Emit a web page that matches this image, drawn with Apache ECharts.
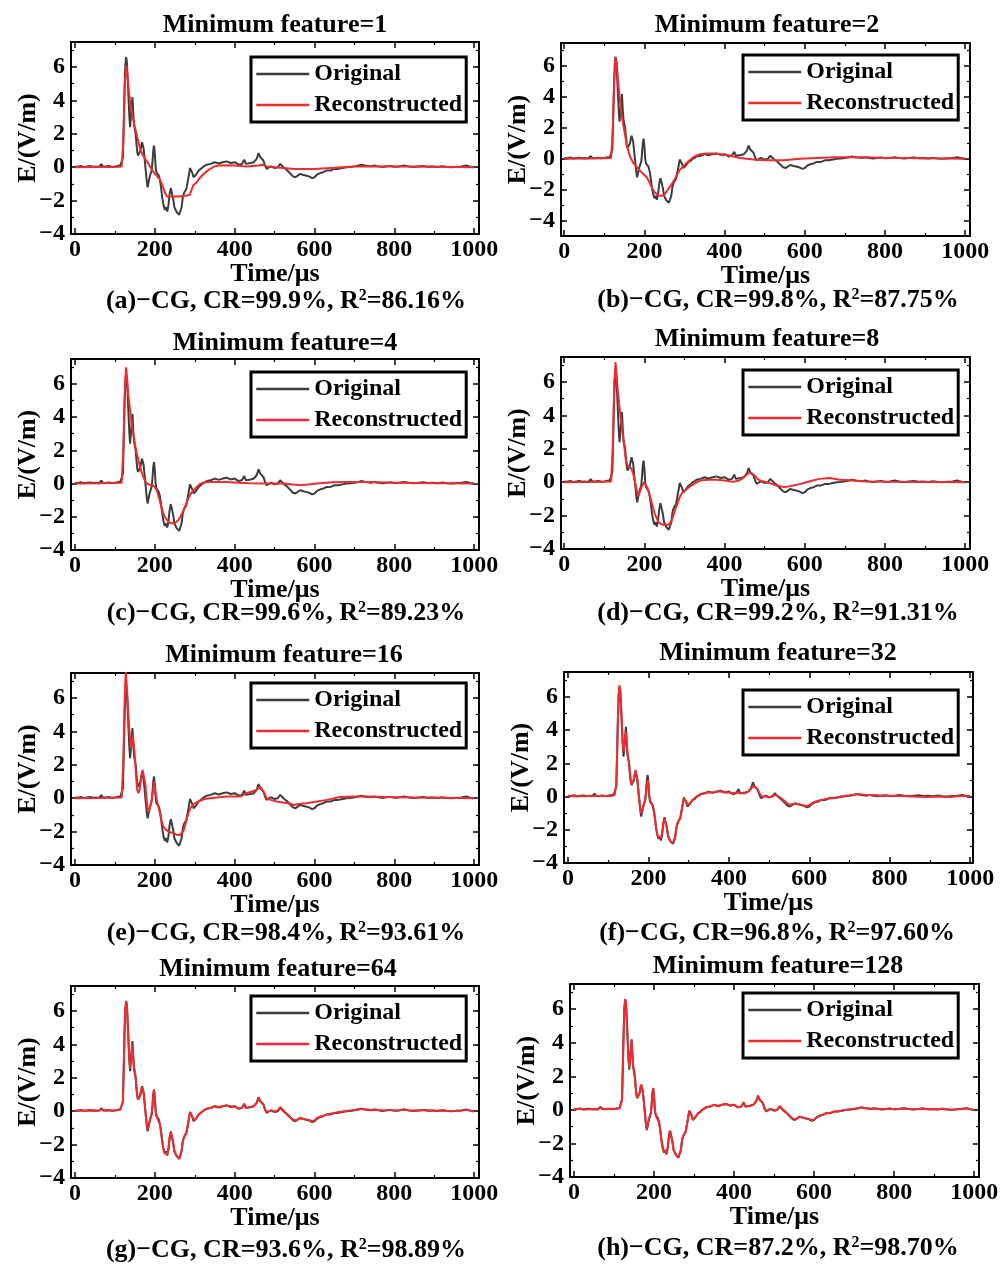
<!DOCTYPE html>
<html><head><meta charset="utf-8">
<script src="https://cdn.jsdelivr.net/npm/echarts@6/dist/echarts.min.js"></script>
<style>html,body{margin:0;padding:0;background:#fff}#c{width:1008px;height:1264px}</style>
</head><body><div id="c"></div>
<script>
// ---------- DATA ----------
const panelTitles = ['Minimum feature=1','Minimum feature=2','Minimum feature=4','Minimum feature=8',
  'Minimum feature=16','Minimum feature=32','Minimum feature=64','Minimum feature=128'];
const captionLetters = ['a','b','c','d','e','f','g','h'];
const captionCR = ['99.9%','99.8%','99.6%','99.2%','98.4%','96.8%','93.6%','87.2%'];
const captionR2 = ['86.16%','87.75%','89.23%','91.31%','93.61%','97.60%','98.89%','98.70%'];
const xTickLabels = [0,200,400,600,800,1000];
const xMinorTicks = [100,300,500,700,900];
const yTickLabels = [-4,-2,0,2,4,6];
const yMinorTicks = [-3,-1,1,3,5,7];
const xMins = [-10,-8,-10,-8,-10,-10,-10,-10];
const xMaxs = [1012,1012,1012,1012,1012,1007,1012,1012];
const yMins = [-4,-5,-4,-4,-4,-4,-4,-4];
const yMaxs = [7.5,7.5,7.5,7.5,7.5,7.5,7.5,7.5];

// Original waveform [time(us), E(V/m)]
const original = [[0,0.05],[8,0.03],[15,0.08],[22,0.02],[30,0.05],[38,0.07],[45,0.03],[52,0.05],[60,0.02],[66,0.18],[70,0.05],[78,0.04],[85,0.07],[92,0.03],[100,0.05],[106,0.08],[110,0.04],[114,0.12],[117,0.2],
[120,0.6],[122,2.5],[124,4.6],[126,6.1],[128,6.6],[130,6.3],[132,5.3],[134,4.2],[136,3.1],[138,2.4],[140,2.5],[142,3.6],[144,4.2],[146,3.2],[148,2.5],[150,2.4],[152,2.0],[154,1.4],[156,0.9],[158,0.7],[160,0.75],[162,0.8],[164,1.0],[166,1.3],[168,1.5],[170,1.45],[172,1.1],[174,0.6],[176,0.1],[178,-0.4],[180,-0.9],[182,-1.2],[184,-1.1],[186,-0.7],[188,-0.5],[190,-0.45],[192,-0.2],[194,0.3],[196,1.0],[198,1.3],[200,0.8],[202,0.0],[204,-0.3],[206,-0.4],[208,-0.4],[210,-0.5],
[213,-0.8],[216,-1.3],[219,-1.9],[222,-2.3],[225,-2.55],[228,-2.4],[231,-2.65],[234,-2.3],[237,-1.6],[240,-1.25],[243,-1.3],[246,-1.9],[249,-2.4],[252,-2.55],[255,-2.7],[258,-2.8],[261,-2.85],[264,-2.75],[267,-2.4],[270,-1.8],[273,-1.55],[276,-1.5],[279,-1.3],[282,-0.9],[285,-0.5],[288,-0.05],[291,0.05],[294,-0.35],[297,-0.6],[300,-0.65],[303,-0.45],[306,-0.4],[310,-0.2],[315,-0.15],[320,0.0],[325,0.05],[330,0.15],[340,0.2],[350,0.3],[360,0.22],[370,0.3],[380,0.35],[390,0.25],[400,0.3],[410,0.15],[418,0.2],[424,0.45],[428,0.2],[432,0.1],[440,0.25],[448,0.3],[455,0.5],[460,0.85],[464,0.6],[468,0.65],[472,0.4],[476,0.1],[480,-0.1],[486,0.0],[492,0.05],[500,-0.05],[508,0.0],[514,0.2],[518,0.15],[524,-0.05],[530,-0.15],[538,-0.35],[546,-0.55],[552,-0.6],[558,-0.5],[564,-0.4],[570,-0.45],[578,-0.5],[586,-0.55],[594,-0.65],[600,-0.6],[606,-0.45],[614,-0.35],[622,-0.3],[630,-0.2],[640,-0.2],[650,-0.1],[660,-0.1],[670,-0.05],[680,0.0],[690,0.02],[700,0.05],[710,0.1],[718,0.15],[726,0.1],[734,0.08],[742,0.05],[750,0.1],[760,0.05],[770,0.02],[780,0.05],[790,0.08],[800,0.03],[812,0.05],[824,0.1],[836,0.05],[848,0.02],[860,0.05],[872,0.08],[884,0.03],[896,0.05],[908,0.02],[920,0.06],[932,0.02],[944,0.0],[956,0.03],[968,0.05],[980,0.1],[988,0.05],[996,0.0],[1000,0.02]];

const reconA = [[0,0.0],[50,0.02],[100,0.02],[117,0.05],[121,1.5],[125,5.0],[128,6.1],[131,5.6],[135,4.5],[140,3.6],[145,3.0],[150,2.4],[155,1.9],[160,1.4],[165,1.0],[170,0.7],[180,0.35],[190,-0.05],[200,-0.4],[210,-0.65],[215,-0.85],[220,-1.15],[225,-1.5],[230,-1.75],[240,-1.75],[250,-1.75],[260,-1.75],[270,-1.72],[280,-1.7],[288,-1.65],[292,-1.35],[296,-1.1],[300,-1.0],[305,-0.9],[310,-0.72],[320,-0.45],[330,-0.25],[340,-0.08],[350,0.05],[360,0.1],[380,0.12],[400,0.1],[430,0.05],[460,0.1],[470,0.15],[475,0.2],[480,0.05],[500,0.0],[550,-0.1],[600,-0.1],[650,-0.03],[700,0.05],[750,0.05],[800,0.05],[900,0.03],[1000,0.0]];

const reconB = [[0,0.0],[60,0.02],[117,0.05],[121,1.8],[125,5.2],[128,6.6],[131,6.2],[135,4.8],[139,3.8],[144,2.7],[148,2.1],[152,1.5],[156,0.9],[160,0.5],[165,0.1],[173,-0.3],[182,-0.55],[190,-0.8],[198,-1.0],[206,-1.2],[212,-1.5],[219,-1.9],[225,-2.15],[231,-2.3],[237,-2.4],[243,-2.4],[250,-2.3],[256,-2.1],[265,-1.75],[273,-1.45],[281,-1.05],[289,-0.7],[298,-0.45],[306,-0.25],[315,-0.05],[323,0.12],[331,0.22],[339,0.3],[355,0.35],[372,0.35],[390,0.3],[406,0.25],[422,0.15],[439,0.05],[455,0.0],[472,-0.05],[490,-0.08],[506,-0.1],[527,-0.1],[547,-0.1],[568,-0.05],[589,0.0],[630,0.05],[672,0.1],[714,0.1],[755,0.1],[800,0.05],[850,0.05],[900,0.03],[950,0.02],[1000,0.0]];

const reconC = [[0,0.0],[60,0.02],[117,0.05],[121,2.0],[125,5.8],[128,7.0],[131,6.2],[134,5.2],[138,4.4],[142,3.6],[146,3.0],[150,2.4],[155,1.8],[159,1.4],[163,1.0],[168,0.6],[175,0.2],[180,0.0],[184,-0.1],[190,-0.1],[196,-0.1],[200,-0.15],[205,-0.4],[209,-0.75],[213,-1.1],[217,-1.45],[221,-1.8],[226,-2.05],[234,-2.3],[240,-2.38],[246,-2.4],[252,-2.35],[259,-2.2],[265,-1.95],[272,-1.6],[278,-1.25],[284,-0.9],[290,-0.6],[297,-0.4],[305,-0.2],[313,-0.02],[325,0.08],[338,0.1],[360,0.1],[380,0.1],[410,0.05],[438,0.02],[480,0.0],[522,0.0],[545,-0.05],[564,-0.08],[585,-0.05],[606,0.0],[630,0.05],[647,0.08],[690,0.1],[731,0.1],[780,0.06],[850,0.04],[920,0.02],[1000,0.0]];

const reconD = [[0,0.0],[60,0.02],[117,0.05],[121,2.0],[125,6.0],[128,7.2],[131,6.3],[134,5.4],[137,4.7],[141,3.8],[146,2.9],[150,2.1],[154,1.3],[158,1.0],[162,0.9],[168,0.8],[172,0.5],[176,0.1],[180,-0.4],[184,-0.85],[187,-0.7],[193,-0.3],[199,0.0],[203,-0.05],[207,-0.3],[211,-0.6],[218,-1.2],[226,-1.9],[234,-2.35],[241,-2.5],[247,-2.55],[253,-2.55],[259,-2.55],[264,-2.45],[268,-2.3],[272,-2.0],[276,-1.7],[282,-1.3],[288,-0.9],[294,-0.65],[301,-0.5],[309,-0.35],[317,-0.2],[327,-0.05],[338,0.1],[360,0.15],[380,0.15],[400,0.1],[421,0.02],[435,0.1],[446,0.25],[455,0.45],[463,0.6],[469,0.5],[475,0.4],[482,0.2],[488,0.1],[504,0.0],[518,-0.1],[529,-0.2],[546,-0.28],[560,-0.25],[571,-0.2],[590,-0.1],[604,0.0],[620,0.1],[637,0.2],[662,0.25],[687,0.15],[720,0.1],[754,0.05],[800,0.03],[870,0.02],[940,0.02],[1000,0.0]];

const reconE = [[0,0.0],[60,0.02],[117,0.05],[121,2.2],[124,5.5],[127,7.6],[129,7.6],[131,6.3],[134,4.8],[137,3.8],[140,3.0],[143,3.4],[145,3.8],[147,3.3],[150,2.5],[153,1.3],[156,0.5],[159,0.3],[162,0.5],[166,1.3],[169,1.7],[172,1.4],[176,0.9],[180,-0.2],[183,-0.85],[186,-0.7],[190,-0.35],[194,0.2],[198,1.0],[201,0.5],[205,-0.1],[209,-0.5],[213,-0.9],[217,-1.35],[221,-1.7],[226,-1.85],[232,-1.95],[240,-2.05],[248,-2.1],[256,-2.2],[263,-2.2],[268,-2.1],[272,-1.95],[276,-1.6],[280,-1.25],[284,-0.9],[290,-0.55],[297,-0.35],[305,-0.25],[313,-0.15],[325,-0.05],[338,0.0],[355,0.05],[380,0.1],[400,0.1],[414,0.1],[422,0.2],[430,0.3],[443,0.4],[455,0.5],[460,0.6],[464,0.7],[468,0.55],[472,0.4],[476,0.2],[480,0.0],[490,-0.1],[505,-0.2],[520,-0.25],[539,-0.32],[547,-0.4],[560,-0.35],[580,-0.3],[606,-0.2],[631,-0.1],[650,0.0],[664,0.08],[700,0.1],[731,0.1],[780,0.08],[850,0.05],[920,0.03],[1000,0.0]];

const reconF = [[0,0.02],[20,0.03],[40,0.02],[60,0.05],[80,0.03],[100,0.04],[110,0.05],[116,0.1],[120,0.7],[122,2.6],[124,4.7],[126,6.2],[128,6.7],[130,6.4],[132,5.4],[134,4.3],[136,3.3],[138,2.7],[140,2.8],[142,3.6],[144,3.9],[146,3.3],[148,2.6],[150,2.3],[152,1.9],[154,1.3],[156,0.9],[158,0.75],[160,0.8],[162,0.9],[164,1.1],[166,1.4],[168,1.6],[170,1.5],[172,1.1],[174,0.6],[176,0.1],[178,-0.4],[180,-0.8],[182,-1.0],[184,-0.95],[186,-0.7],[188,-0.5],[190,-0.4],[192,-0.2],[194,0.2],[196,0.8],[198,1.0],[200,0.7],[202,0.1],[204,-0.2],[206,-0.35],[208,-0.4],[210,-0.5],[213,-0.8],[216,-1.3],[219,-1.9],[222,-2.3],[225,-2.45],[228,-2.4],[231,-2.5],[234,-2.2],[237,-1.6],[240,-1.3],[243,-1.35],[246,-1.9],[249,-2.4],[252,-2.6],[255,-2.7],[258,-2.8],[261,-2.8],[264,-2.7],[267,-2.3],[270,-1.8],[273,-1.55],[276,-1.45],[279,-1.3],[282,-0.9],[285,-0.5],[288,-0.1],[291,0.0],[294,-0.3],[297,-0.5],[300,-0.55],[303,-0.4],[306,-0.35],[310,-0.2],[320,0.0],[330,0.15],[340,0.2],[350,0.25],[360,0.25],[370,0.3],[380,0.3],[390,0.25],[400,0.25],[410,0.2],[420,0.25],[428,0.2],[440,0.2],[448,0.3],[455,0.45],[460,0.65],[464,0.55],[470,0.5],[476,0.2],[482,0.0],[492,0.0],[500,-0.05],[510,0.05],[516,0.1],[524,0.0],[530,-0.1],[540,-0.3],[550,-0.5],[560,-0.45],[570,-0.45],[580,-0.5],[590,-0.55],[598,-0.55],[606,-0.4],[616,-0.3],[630,-0.2],[650,-0.1],[670,-0.05],[690,0.05],[710,0.1],[720,0.15],[740,0.1],[760,0.1],[780,0.05],[800,0.05],[830,0.03],[860,0.0],[890,-0.02],[920,0.0],[950,-0.03],[980,0.05],[1000,0.0]];

const reconG = [[0,0.02],[15,0.05],[30,0.03],[45,0.05],[60,0.03],[66,0.12],[75,0.04],[90,0.05],[105,0.06],[114,0.1],[117,0.18],[120,0.6],[122,2.5],[124,4.6],[126,6.1],[128,6.6],[130,6.4],[132,5.4],[134,4.3],[136,3.2],[138,2.6],[140,2.7],[142,3.6],[144,4.0],[146,3.2],[148,2.6],[150,2.4],[152,2.0],[154,1.4],[156,0.9],[158,0.7],[160,0.75],[162,0.85],[164,1.05],[166,1.3],[168,1.45],[170,1.4],[172,1.1],[174,0.6],[176,0.1],[178,-0.4],[180,-0.85],[182,-1.1],[184,-1.0],[186,-0.7],[188,-0.5],[190,-0.45],[192,-0.2],[194,0.3],[196,0.95],[198,1.25],[200,0.8],[202,0.05],[204,-0.25],[206,-0.4],[208,-0.4],[210,-0.5],[213,-0.8],[216,-1.3],[219,-1.9],[222,-2.3],[225,-2.5],[228,-2.4],[231,-2.6],[234,-2.3],[237,-1.6],[240,-1.2],[243,-1.3],[246,-1.9],[249,-2.4],[252,-2.55],[255,-2.7],[258,-2.8],[261,-2.85],[264,-2.7],[267,-2.35],[270,-1.8],[273,-1.55],[276,-1.5],[279,-1.3],[282,-0.9],[285,-0.5],[288,-0.05],[291,0.05],[294,-0.35],[297,-0.55],[300,-0.6],[303,-0.45],[306,-0.4],[310,-0.2],[315,-0.1],[320,0.0],[330,0.15],[340,0.2],[350,0.3],[360,0.25],[370,0.3],[380,0.35],[390,0.3],[400,0.28],[410,0.15],[418,0.2],[424,0.4],[428,0.2],[432,0.12],[440,0.25],[448,0.3],[455,0.5],[460,0.8],[464,0.6],[468,0.62],[472,0.4],[476,0.1],[480,-0.05],[486,0.0],[492,0.05],[500,-0.02],[508,0.05],[514,0.25],[518,0.15],[524,0.0],[530,-0.15],[538,-0.35],[546,-0.5],[552,-0.55],[558,-0.5],[564,-0.42],[570,-0.45],[578,-0.5],[586,-0.52],[594,-0.6],[600,-0.55],[606,-0.42],[614,-0.32],[622,-0.28],[630,-0.2],[640,-0.15],[650,-0.1],[660,-0.05],[670,-0.02],[680,0.02],[690,0.05],[700,0.08],[710,0.12],[718,0.15],[726,0.12],[734,0.1],[742,0.08],[750,0.1],[760,0.08],[770,0.05],[780,0.06],[790,0.08],[800,0.05],[812,0.06],[824,0.1],[836,0.06],[848,0.04],[860,0.05],[872,0.07],[884,0.04],[896,0.05],[908,0.03],[920,0.05],[932,0.03],[944,0.02],[956,0.03],[968,0.05],[980,0.08],[988,0.05],[996,0.0],[1000,0.0]];

const reconH = [[0,0.03],[15,0.06],[30,0.02],[45,0.05],[60,0.04],[66,0.15],[75,0.04],[90,0.06],[105,0.05],[114,0.1],[117,0.2],[120,0.6],[122,2.5],[124,4.6],[126,6.1],[128,6.6],[130,6.35],[132,5.35],[134,4.25],[136,3.1],[138,2.5],[140,2.6],[142,3.6],[144,4.1],[146,3.2],[148,2.55],[150,2.4],[152,2.0],[154,1.4],[156,0.9],[158,0.7],[160,0.75],[162,0.8],[164,1.0],[166,1.3],[168,1.5],[170,1.42],[172,1.1],[174,0.6],[176,0.1],[178,-0.4],[180,-0.88],[182,-1.15],[184,-1.05],[186,-0.7],[188,-0.5],[190,-0.45],[192,-0.2],[194,0.3],[196,1.0],[198,1.28],[200,0.8],[202,0.02],[204,-0.28],[206,-0.4],[208,-0.4],[210,-0.5],[213,-0.8],[216,-1.3],[219,-1.9],[222,-2.3],[225,-2.52],[228,-2.4],[231,-2.62],[234,-2.3],[237,-1.6],[240,-1.22],[243,-1.3],[246,-1.9],[249,-2.4],[252,-2.55],[255,-2.7],[258,-2.8],[261,-2.82],[264,-2.72],[267,-2.38],[270,-1.8],[273,-1.55],[276,-1.5],[279,-1.3],[282,-0.9],[285,-0.5],[288,-0.05],[291,0.05],[294,-0.35],[297,-0.58],[300,-0.62],[303,-0.45],[306,-0.4],[310,-0.2],[315,-0.12],[320,0.0],[330,0.15],[340,0.2],[350,0.3],[360,0.24],[370,0.3],[380,0.35],[390,0.27],[400,0.3],[410,0.15],[418,0.2],[424,0.42],[428,0.2],[432,0.1],[440,0.25],[448,0.3],[455,0.5],[460,0.82],[464,0.6],[468,0.64],[472,0.4],[476,0.1],[480,-0.08],[486,0.0],[492,0.05],[500,-0.04],[508,0.02],[514,0.22],[518,0.15],[524,-0.03],[530,-0.15],[538,-0.35],[546,-0.52],[552,-0.58],[558,-0.5],[564,-0.4],[570,-0.45],[578,-0.5],[586,-0.54],[594,-0.62],[600,-0.58],[606,-0.44],[614,-0.34],[622,-0.29],[630,-0.2],[640,-0.18],[650,-0.1],[660,-0.08],[670,-0.04],[680,0.0],[690,0.03],[700,0.06],[710,0.1],[718,0.15],[726,0.11],[734,0.09],[742,0.06],[750,0.1],[760,0.06],[770,0.03],[780,0.05],[790,0.08],[800,0.04],[812,0.05],[824,0.1],[836,0.05],[848,0.03],[860,0.05],[872,0.08],[884,0.04],[896,0.05],[908,0.03],[920,0.06],[932,0.03],[944,0.01],[956,0.03],[968,0.05],[980,0.1],[988,0.05],[996,0.0],[1000,0.0]];

const reconstructed = [reconA, reconB, reconC, reconD, reconE, reconF, reconG, reconH];

// ---------- LAYOUT ----------
const plotRects = [ // left, top, width, height
  [71,42,408,192],[561,43,409,193],
  [71,359,408,191],[561,357,409,192],
  [71,673,408,192],[564,672,409,191],
  [71,986,408,192],[570,984,409,193]
];
const titlePos = [[275,25],[767,25],[285,343],[767,339],[284,655],[778,653],[278,969],[778,966]];
const captionPos = [[286,301],[778,300],[286,613],[778,613],[286,933],[777,933],[286,1250],[778,1248]];
const legendPos = [[251,57],[743,55],[251,372],[743,370],[251,683],[743,690],[251,996],[743,993]];

const FONT = '"Liberation Serif","Times New Roman",serif';
const BLACK = '#000';
const ORIG_COLOR = '#3d3d3d';
const REC_COLOR = '#ef2b2f';

const grid = [], xAxis = [], yAxis = [], series = [], legend = [], graphic = [];
const lbl = {color: BLACK, fontFamily: FONT, fontWeight: 'bold', fontSize: 24};

plotRects.forEach((r, i) => {
  grid.push({left: r[0], top: r[1], width: r[2], height: r[3], containLabel: false, outerBoundsMode: 'none'});
  const xb = {type: 'value', gridIndex: i, min: xMins[i], max: xMaxs[i], splitLine: {show: false}, silent: true};
  const yb = {type: 'value', gridIndex: i, min: yMins[i], max: yMaxs[i], splitLine: {show: false}, silent: true};
  const line = {show: true, onZero: false, lineStyle: {color: BLACK, width: 2}};
  const noLine = {show: false, onZero: false};
  const tickMaj = {show: true, inside: true, length: 6, lineStyle: {color: BLACK, width: 1.5}};
  const tickMin = {show: true, inside: true, length: 3, lineStyle: {color: BLACK, width: 1.2}};
  xAxis.push(Object.assign({}, xb, {position: 'bottom', axisLine: line,
    axisTick: Object.assign({customValues: xTickLabels}, tickMaj),
    axisLabel: Object.assign({show: true, customValues: xTickLabels, margin: 4,
      formatter: v => String(v)}, lbl),
    name: 'Time/μs', nameLocation: 'middle', nameGap: 27, nameMoveOverlap: false,
    nameTextStyle: {color: BLACK, fontFamily: FONT, fontWeight: 'bold', fontSize: 26}}));
  xAxis.push(Object.assign({}, xb, {position: 'bottom', axisLine: noLine,
    axisTick: Object.assign({customValues: xMinorTicks}, tickMin), axisLabel: {show: false}}));
  xAxis.push(Object.assign({}, xb, {position: 'top', axisLine: line,
    axisTick: Object.assign({customValues: xTickLabels}, tickMaj), axisLabel: {show: false}}));
  xAxis.push(Object.assign({}, xb, {position: 'top', axisLine: noLine,
    axisTick: Object.assign({customValues: xMinorTicks}, tickMin), axisLabel: {show: false}}));

  yAxis.push(Object.assign({}, yb, {position: 'left', axisLine: line,
    axisTick: Object.assign({customValues: yTickLabels}, tickMaj),
    axisLabel: Object.assign({show: true, customValues: yTickLabels, margin: 6,
      formatter: v => (v < 0 ? '\u2212' + Math.abs(v) : String(v))}, lbl),
    name: 'E/(V/m)', nameLocation: 'middle', nameGap: 30, nameRotate: 90, nameMoveOverlap: false,
    nameTextStyle: {color: BLACK, fontFamily: FONT, fontWeight: 'bold', fontSize: 26}}));
  yAxis.push(Object.assign({}, yb, {position: 'left', axisLine: noLine,
    axisTick: Object.assign({customValues: yMinorTicks}, tickMin), axisLabel: {show: false}}));
  yAxis.push(Object.assign({}, yb, {position: 'right', axisLine: line,
    axisTick: Object.assign({customValues: yTickLabels}, tickMaj), axisLabel: {show: false}}));
  yAxis.push(Object.assign({}, yb, {position: 'right', axisLine: noLine,
    axisTick: Object.assign({customValues: yMinorTicks}, tickMin), axisLabel: {show: false}}));

  series.push({type: 'line', name: 'Original', xAxisIndex: i * 4, yAxisIndex: i * 4,
    data: original, symbol: 'none', showSymbol: false, smooth: false, clip: true,
    lineStyle: {color: ORIG_COLOR, width: 2}, itemStyle: {color: ORIG_COLOR}, z: 2});
  series.push({type: 'line', name: 'Reconstructed', xAxisIndex: i * 4, yAxisIndex: i * 4,
    data: reconstructed[i], symbol: 'none', showSymbol: false, smooth: false, clip: true,
    lineStyle: {color: REC_COLOR, width: 2}, itemStyle: {color: REC_COLOR}, z: 3});

  legend.push({left: legendPos[i][0], top: legendPos[i][1], orient: 'vertical',
    data: ['Original', 'Reconstructed'], selectedMode: false,
    borderColor: BLACK, borderWidth: 3, backgroundColor: '#fff',
    padding: [5, 4, 5, 4], itemWidth: 53, itemHeight: 24, itemGap: 7,
    itemStyle: {opacity: 0}, lineStyle: {width: 2.5},
    textStyle: {color: BLACK, fontFamily: FONT, fontWeight: 'bold', fontSize: 24}});

  graphic.push({type: 'text', x: titlePos[i][0], y: titlePos[i][1], silent: true,
    style: {text: panelTitles[i], fill: BLACK, font: 'bold 26px ' + FONT,
      align: 'center', verticalAlign: 'middle', textAlign: 'center', textVerticalAlign: 'middle'}});
  graphic.push({type: 'text', x: captionPos[i][0], y: captionPos[i][1], silent: true,
    style: {text: '(' + captionLetters[i] + ')\u2212CG, CR=' + captionCR[i] + ', R{sup|2}=' + captionR2[i],
      fill: BLACK, font: 'bold 26px ' + FONT, fontFamily: FONT, fontWeight: 'bold', fontSize: 26,
      align: 'center', verticalAlign: 'middle', textAlign: 'center', textVerticalAlign: 'middle',
      rich: {sup: {fontFamily: FONT, fontWeight: 'bold', fontSize: 16, lineHeight: 16, verticalAlign: 'top', fill: BLACK}}}});
});

const chart = echarts.init(document.getElementById('c'), null, {renderer: 'canvas'});
chart.setOption({
  animation: false,
  backgroundColor: '#fff',
  grid, xAxis, yAxis, series, legend, graphic
});
</script>
</body></html>
